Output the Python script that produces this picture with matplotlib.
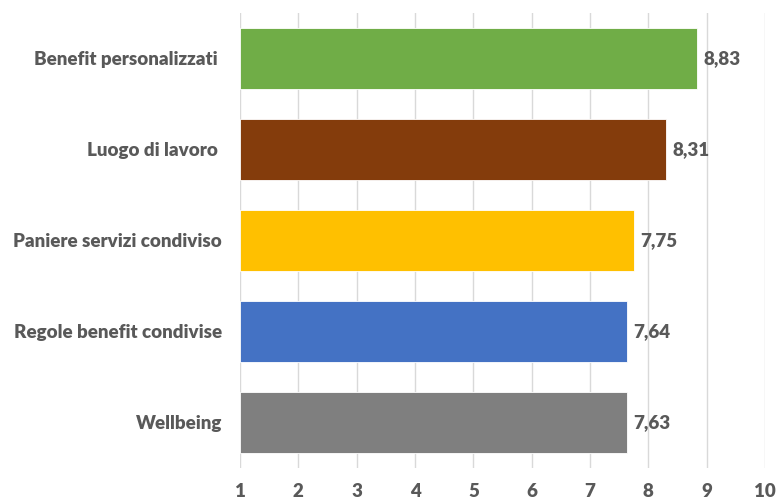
import matplotlib.pyplot as plt

categories = ['Benefit personalizzati ', 'Luogo di lavoro ', 'Paniere servizi condiviso',
              'Regole benefit condivise', 'Wellbeing']
values = [8.83, 8.31, 7.75, 7.64, 7.63]
colors = ['#70ad47', '#843c0c', '#ffc000', '#4472c4', '#7f7f7f']
ticks = list(range(1, 11))

text_color = '#595959'
plt.rcParams['font.family'] = ['Lato', 'DejaVu Sans']
plt.rcParams['font.weight'] = 800

fig = plt.figure(figsize=(7.77, 5.03), dpi=100)
ax = fig.add_axes([0.309, 0.0696, 0.6756, 0.9046])

y = list(range(len(categories)))
widths = [v - 1 for v in values]
ax.barh(y, widths, left=1, height=0.66, color=colors, edgecolor='white', linewidth=0.6, zorder=3)

for yi, v in zip(y, values):
    ax.annotate(f'{v:.2f}'.replace('.', ','), (v, yi), xytext=(4.5, 0), textcoords='offset points',
                va='center', ha='left', fontsize=13.5, fontweight=800, color=text_color)

ax.set_xlim(1, 10)
ax.set_ylim(len(categories) - 0.5, -0.5)
ax.set_xticks(ticks)
ax.set_yticks(y)
ax.set_yticklabels(categories)
ax.grid(axis='x', color='#d9d9d9', linewidth=1, zorder=0)
for s in ax.spines.values():
    s.set_visible(False)
ax.tick_params(axis='both', length=0, labelsize=13.5, labelcolor=text_color)
ax.tick_params(axis='y', pad=13)
ax.tick_params(axis='x', pad=10.5)

fig.savefig('out.png', dpi=100)
